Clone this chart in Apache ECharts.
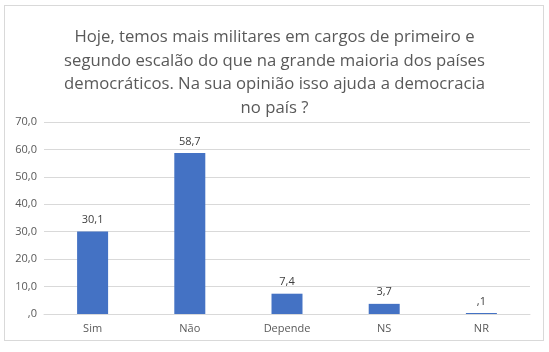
<!DOCTYPE html>
<html>
<head>
<meta charset="utf-8">
<script src="https://cdn.jsdelivr.net/npm/echarts@6/dist/echarts.min.js"></script>
<style>
  html, body { margin: 0; padding: 0; background: #fff; }
  #box { position: absolute; left: 4px; top: 5px; width: 540px; height: 336px; border: 1px solid #d9d9d9; box-sizing: border-box; }
  #chart { width: 549px; height: 352px; }
</style>
</head>
<body>
<div id="box"></div>
<div id="chart"></div>
<script>
// dados
var categorias = ['Sim', 'Não', 'Depende', 'NS', 'NR']
var valores = [30.1, 58.7, 7.4, 3.7, 0.1]
var titulo = 'Hoje, temos mais militares em cargos de primeiro e\nsegundo escalão do que na grande maioria dos países\ndemocráticos. Na sua opinião isso ajuda a democracia\nno país ?'

// 30.1 -> "30,1", 0.1 -> ",1"
function fmt(v) {
  var s = v.toFixed(1).replace('.', ',')
  if (s.indexOf('0,') === 0) s = s.substring(1)
  return s
}

var chart = echarts.init(document.getElementById('chart'))
chart.setOption({
  animation: false,
  title: {
    text: titulo,
    left: 'center',
    top: 21,
    textStyle: {
      color: '#595959',
      fontFamily: 'Open Sans',
      fontSize: 16.7,
      fontWeight: 'normal',
      lineHeight: 23.4
    }
  },
  grid: {
    left: 44,
    right: 19,
    top: 122,
    bottom: 38
  },
  xAxis: {
    type: 'category',
    data: categorias,
    axisLine: { lineStyle: { color: '#d9d9d9' } },
    axisTick: { show: false },
    axisLabel: { color: '#595959', fontSize: 11, fontFamily: 'Open Sans', margin: 9 }
  },
  yAxis: {
    type: 'value',
    min: 0,
    max: 70,
    interval: 10,
    axisLine: { show: false },
    axisTick: { show: false },
    splitLine: { lineStyle: { color: '#d9d9d9' } },
    axisLabel: {
      color: '#595959',
      fontSize: 11,
      fontFamily: 'Open Sans',
      margin: 7,
      formatter: function (v) { return fmt(v) }
    }
  },
  series: [
    {
      type: 'bar',
      data: valores,
      barWidth: 31,
      barMinHeight: 1,
      itemStyle: { color: '#4472c4' },
      label: {
        show: true,
        position: 'top',
        distance: 6,
        color: '#404040',
        fontSize: 11,
        fontFamily: 'Open Sans',
        formatter: function (p) { return fmt(p.value) }
      }
    }
  ]
})
</script>
</body>
</html>
